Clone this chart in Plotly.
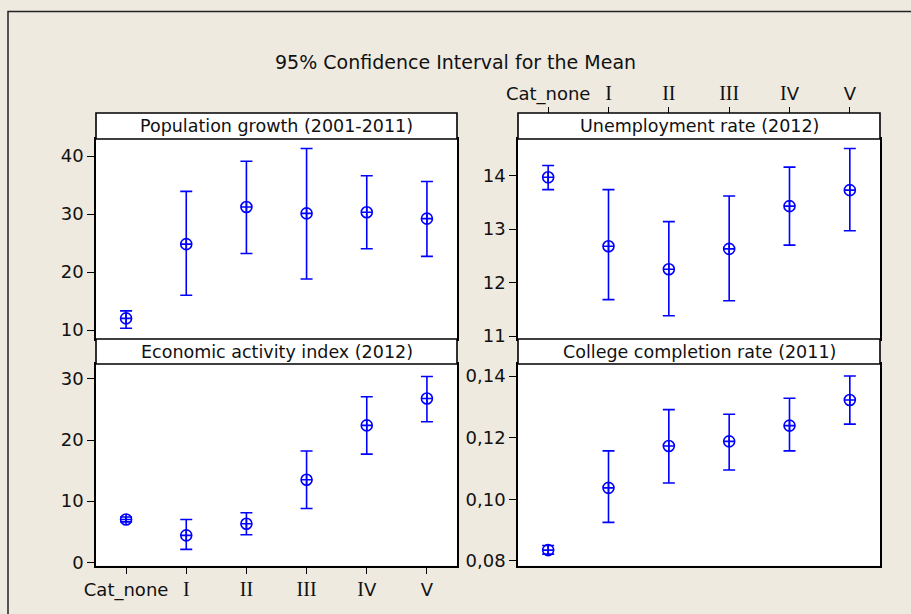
import plotly.graph_objects as go

categories = ["Cat_none", "I", "II", "III", "IV", "V"]

pop_mean = [12.0, 24.8, 31.2, 30.1, 30.3, 29.2]
pop_low = [10.3, 16.0, 23.2, 18.8, 24.0, 22.7]
pop_high = [13.3, 33.9, 39.1, 41.3, 36.6, 35.6]

unemp_mean = [13.97, 12.68, 12.25, 12.63, 13.43, 13.73]
unemp_low = [13.74, 11.68, 11.38, 11.66, 12.70, 12.97]
unemp_high = [14.19, 13.74, 13.14, 13.62, 14.16, 14.51]

econ_mean = [7.0, 4.4, 6.3, 13.5, 22.4, 26.8]
econ_low = [6.6, 2.1, 4.5, 8.8, 17.7, 23.0]
econ_high = [7.4, 7.0, 8.1, 18.2, 27.1, 30.4]

coll_mean = [0.0835, 0.1037, 0.1173, 0.1188, 0.1239, 0.1322]
coll_low = [0.0822, 0.0925, 0.1053, 0.1095, 0.1157, 0.1244]
coll_high = [0.0850, 0.1157, 0.1291, 0.1276, 0.1328, 0.1400]

panel_titles = ["Population growth (2001-2011)", "Unemployment rate (2012)",
                "Economic activity index (2012)", "College completion rate (2011)"]

BLUE = "#0000FF"
BG = "#EEEAE0"
FONT = "DejaVu Sans"
TXT = "#111111"
W, H = 911, 614

# tick labels: capital I drawn with a serif face (as in the original Tahoma rendering)
SERIF_I = '<span style="font-family:Liberation Serif;font-size:20px">I</span>'
tick_labels = [c if c == "Cat_none" else c.replace("I", SERIF_I) for c in categories]

fig = go.Figure()

panels = [
    (pop_mean, pop_low, pop_high, "x", "y"),
    (unemp_mean, unemp_low, unemp_high, "x2", "y2"),
    (econ_mean, econ_low, econ_high, "x3", "y3"),
    (coll_mean, coll_low, coll_high, "x4", "y4"),
]
for mean, low, high, xa, ya in panels:
    fig.add_trace(go.Scatter(
        x=categories, y=mean, xaxis=xa, yaxis=ya, mode="markers",
        marker=dict(symbol="circle-cross-open", size=11, color=BLUE,
                    line=dict(width=1.6, color=BLUE)),
        error_y=dict(type="data", symmetric=False,
                     array=[h - m for h, m in zip(high, mean)],
                     arrayminus=[m - l for m, l in zip(mean, low)],
                     color=BLUE, thickness=1.6, width=6),
        showlegend=False, hoverinfo="skip"))

# invisible trace for the top category axis of the upper-right panel
fig.add_trace(go.Scatter(x=categories, y=unemp_mean, xaxis="x5", yaxis="y2",
                         mode="markers", marker=dict(opacity=0), showlegend=False,
                         hoverinfo="skip"))

def px_x(p):
    return p / W

def px_y(p):
    return 1 - p / H

left_dom = [px_x(96), px_x(457)]
right_dom = [px_x(518), px_x(880)]
top_dom = [px_y(339), px_y(139)]
bot_dom = [px_y(565.5), px_y(364)]

tickfont = dict(family=FONT, size=18, color=TXT)
common_x = dict(type="category", range=[-0.5, 5.5], showgrid=False, zeroline=False,
                showline=True, mirror=True, linecolor="black", linewidth=1.6,
                tickfont=tickfont, ticklen=7, tickwidth=1.2, tickcolor="black",
                automargin=False, tickmode="array", tickvals=categories,
                ticktext=tick_labels)
common_y = dict(showgrid=False, zeroline=False, showline=True, mirror=True,
                linecolor="black", linewidth=1.6, tickfont=tickfont, ticks="outside",
                ticklen=7, tickwidth=1.2, tickcolor="black", automargin=False)

fig.update_layout(
    width=W, height=H, paper_bgcolor=BG, plot_bgcolor="white",
    margin=dict(l=0, r=0, t=0, b=0, autoexpand=False), separators=", ",
    xaxis=dict(common_x, domain=left_dom, anchor="y", ticks="", showticklabels=False),
    yaxis=dict(common_y, domain=top_dom, anchor="x", range=[8.45, 42.93],
               tickvals=[10, 20, 30, 40]),
    xaxis2=dict(common_x, domain=right_dom, anchor="y2", ticks="", showticklabels=False),
    yaxis2=dict(common_y, domain=top_dom, anchor="x2", range=[10.944, 14.687],
                tickvals=[11, 12, 13, 14]),
    xaxis3=dict(common_x, domain=left_dom, anchor="y3", ticks="outside", showticklabels=True),
    yaxis3=dict(common_y, domain=bot_dom, anchor="x3", range=[-0.54, 32.45],
                tickvals=[0, 10, 20, 30]),
    xaxis4=dict(common_x, domain=right_dom, anchor="y4", ticks="", showticklabels=False),
    yaxis4=dict(common_y, domain=bot_dom, anchor="x4", range=[0.0785, 0.1439],
                tickvals=[0.08, 0.10, 0.12, 0.14], tickformat=".2f"),
    xaxis5=dict(type="category", range=[-0.5, 5.5], matches="x2", overlaying="x2",
                side="top", anchor="free", position=px_y(114), showline=False,
                showgrid=False, zeroline=False, ticks="outside", ticklen=7,
                tickwidth=1.2, tickcolor="black", tickfont=tickfont, automargin=False,
                tickmode="array", tickvals=categories, ticktext=tick_labels),
)

# title
fig.add_annotation(text="95% Confidence Interval for the Mean", xref="paper", yref="paper",
                   x=0.5, y=px_y(62), showarrow=False, xanchor="center", yanchor="middle",
                   font=dict(family=FONT, size=19, color=TXT))

# strips
strips = [("x", "y", 26 / 200), ("x2", "y2", 26 / 200),
          ("x3", "y3", 25 / 201.5), ("x4", "y4", 25 / 201.5)]
for (xa, ya, hfrac), title in zip(strips, panel_titles):
    fig.add_shape(type="rect", xref=xa + " domain", yref=ya + " domain",
                  x0=0, x1=1, y0=1, y1=1 + hfrac, fillcolor="white",
                  line=dict(color="black", width=1.6))
    fig.add_annotation(text=title, xref=xa + " domain", yref=ya + " domain",
                       x=0.5, y=1 + hfrac / 2, showarrow=False, xanchor="center",
                       yanchor="middle", font=dict(family=FONT, size=17.5, color=TXT))

# outer frame
fig.add_shape(type="rect", xref="paper", yref="paper", x0=px_x(8), x1=1.02,
              y0=-0.02, y1=px_y(11.5), line=dict(color="#222222", width=1.5),
              fillcolor="rgba(0,0,0,0)", layer="below")

fig.write_html("out.html", config={"displayModeBar": False},
               post_script="document.body.style.margin='0';document.body.style.overflow='hidden';")
